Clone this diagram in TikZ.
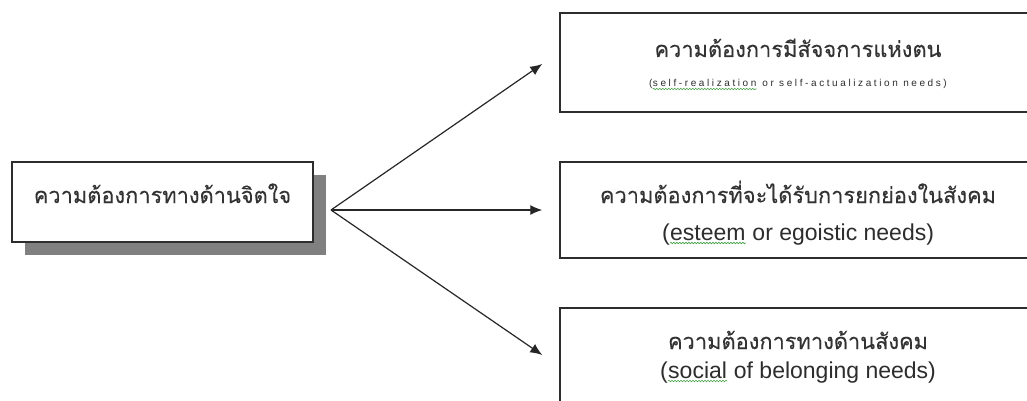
\documentclass[tikz,border=0pt]{standalone}
\usepackage{fontspec}
\setmainfont{Liberation Sans}
\newfontfamily\thaifont[Script=Thai, FakeBold=0.2]{Loma}
\newfontfamily\spacedfont[LetterSpace=26]{Liberation Sans}
\usetikzlibrary{arrows.meta,shadows,decorations.pathmorphing}

\definecolor{spellgreen}{RGB}{70,160,70}
\definecolor{boxline}{RGB}{45,45,45}
\definecolor{shadowgray}{RGB}{128,128,128}

% green wavy spell-check line under a word
\newcommand\spellmark[2][3pt]{\tikz[baseline=(w.base), x=1pt, y=1pt]{%
  \node[inner sep=0pt, anchor=base] (w) at (0,0) {#2};
  \draw[spellgreen, line width=0.6pt, decorate, decoration={snake, amplitude=0.8pt, segment length=3pt}]
    ([yshift=-#1]w.base west) -- ([yshift=-#1]w.base east);}}

\begin{document}
\begin{tikzpicture}[
  x=1pt, y=-1pt,
  >=Latex,
  needbox/.style={rectangle, draw=boxline, line width=1.5pt, fill=white, minimum width=476pt, inner sep=0pt},
  rootbox/.style={rectangle, draw=boxline, line width=1.5pt, fill=white, minimum width=301pt, minimum height=80pt, inner sep=0pt,
    drop shadow={shadow xshift=13pt, shadow yshift=-13pt, fill=shadowgray, opacity=1}},
  thaitext/.style={anchor=base, inner sep=0pt, font=\thaifont\fontsize{21.8}{26}\selectfont, text=black!80},
  engtext/.style={anchor=base, inner sep=0pt, font=\fontsize{23}{27}\selectfont, text=boxline},
  tinytext/.style={anchor=base, inner sep=0pt, font=\spacedfont\fontsize{10}{12}\selectfont, text=boxline},
  arrow/.style={->, line width=1.2pt, draw=black!85, >={Latex[length=12pt, width=10pt]}}
]
\useasboundingbox (0,0) rectangle (1027,401);
% source box with shadow
\node[rootbox] (psych) at (162.5,202) {};
\node[thaitext] (psychth) at (162.5,203) {ความต้องการทางด้านจิตใจ};
% the three needs
\node[needbox, minimum height=99pt] (selfact) at (798,62.5) {};
\node[thaitext] (selfactth) at (798,57) {ความต้องการมีสัจจการแห่งตน};
\node[tinytext] (selfacten) at (798,87) {(\spellmark[2pt]{self-realization} or self-actualization needs)};
\node[needbox, minimum height=96pt] (esteem) at (798,210) {};
\node[thaitext] (esteemth) at (798,203) {ความต้องการที่จะได้รับการยกย่องในสังคม};
\node[engtext] (esteemen) at (798,240) {(\spellmark{esteem} or egoistic needs)};
\node[needbox, minimum height=96pt] (social) at (798,356) {};
\node[thaitext] (socialth) at (798,349) {ความต้องการทางด้านสังคม};
\node[engtext] (socialen) at (798,378) {(\spellmark{social} of belonging needs)};
% connectors
\coordinate (fork) at (331,210);
\draw[arrow] (fork) -- ([xshift=-17pt, yshift=-1.5pt]selfact.west);
\draw[arrow] (fork) -- ([xshift=-17pt]esteem.west);
\draw[arrow] (fork) -- ([xshift=-17pt, yshift=1pt]social.west);
\end{tikzpicture}
\end{document}
